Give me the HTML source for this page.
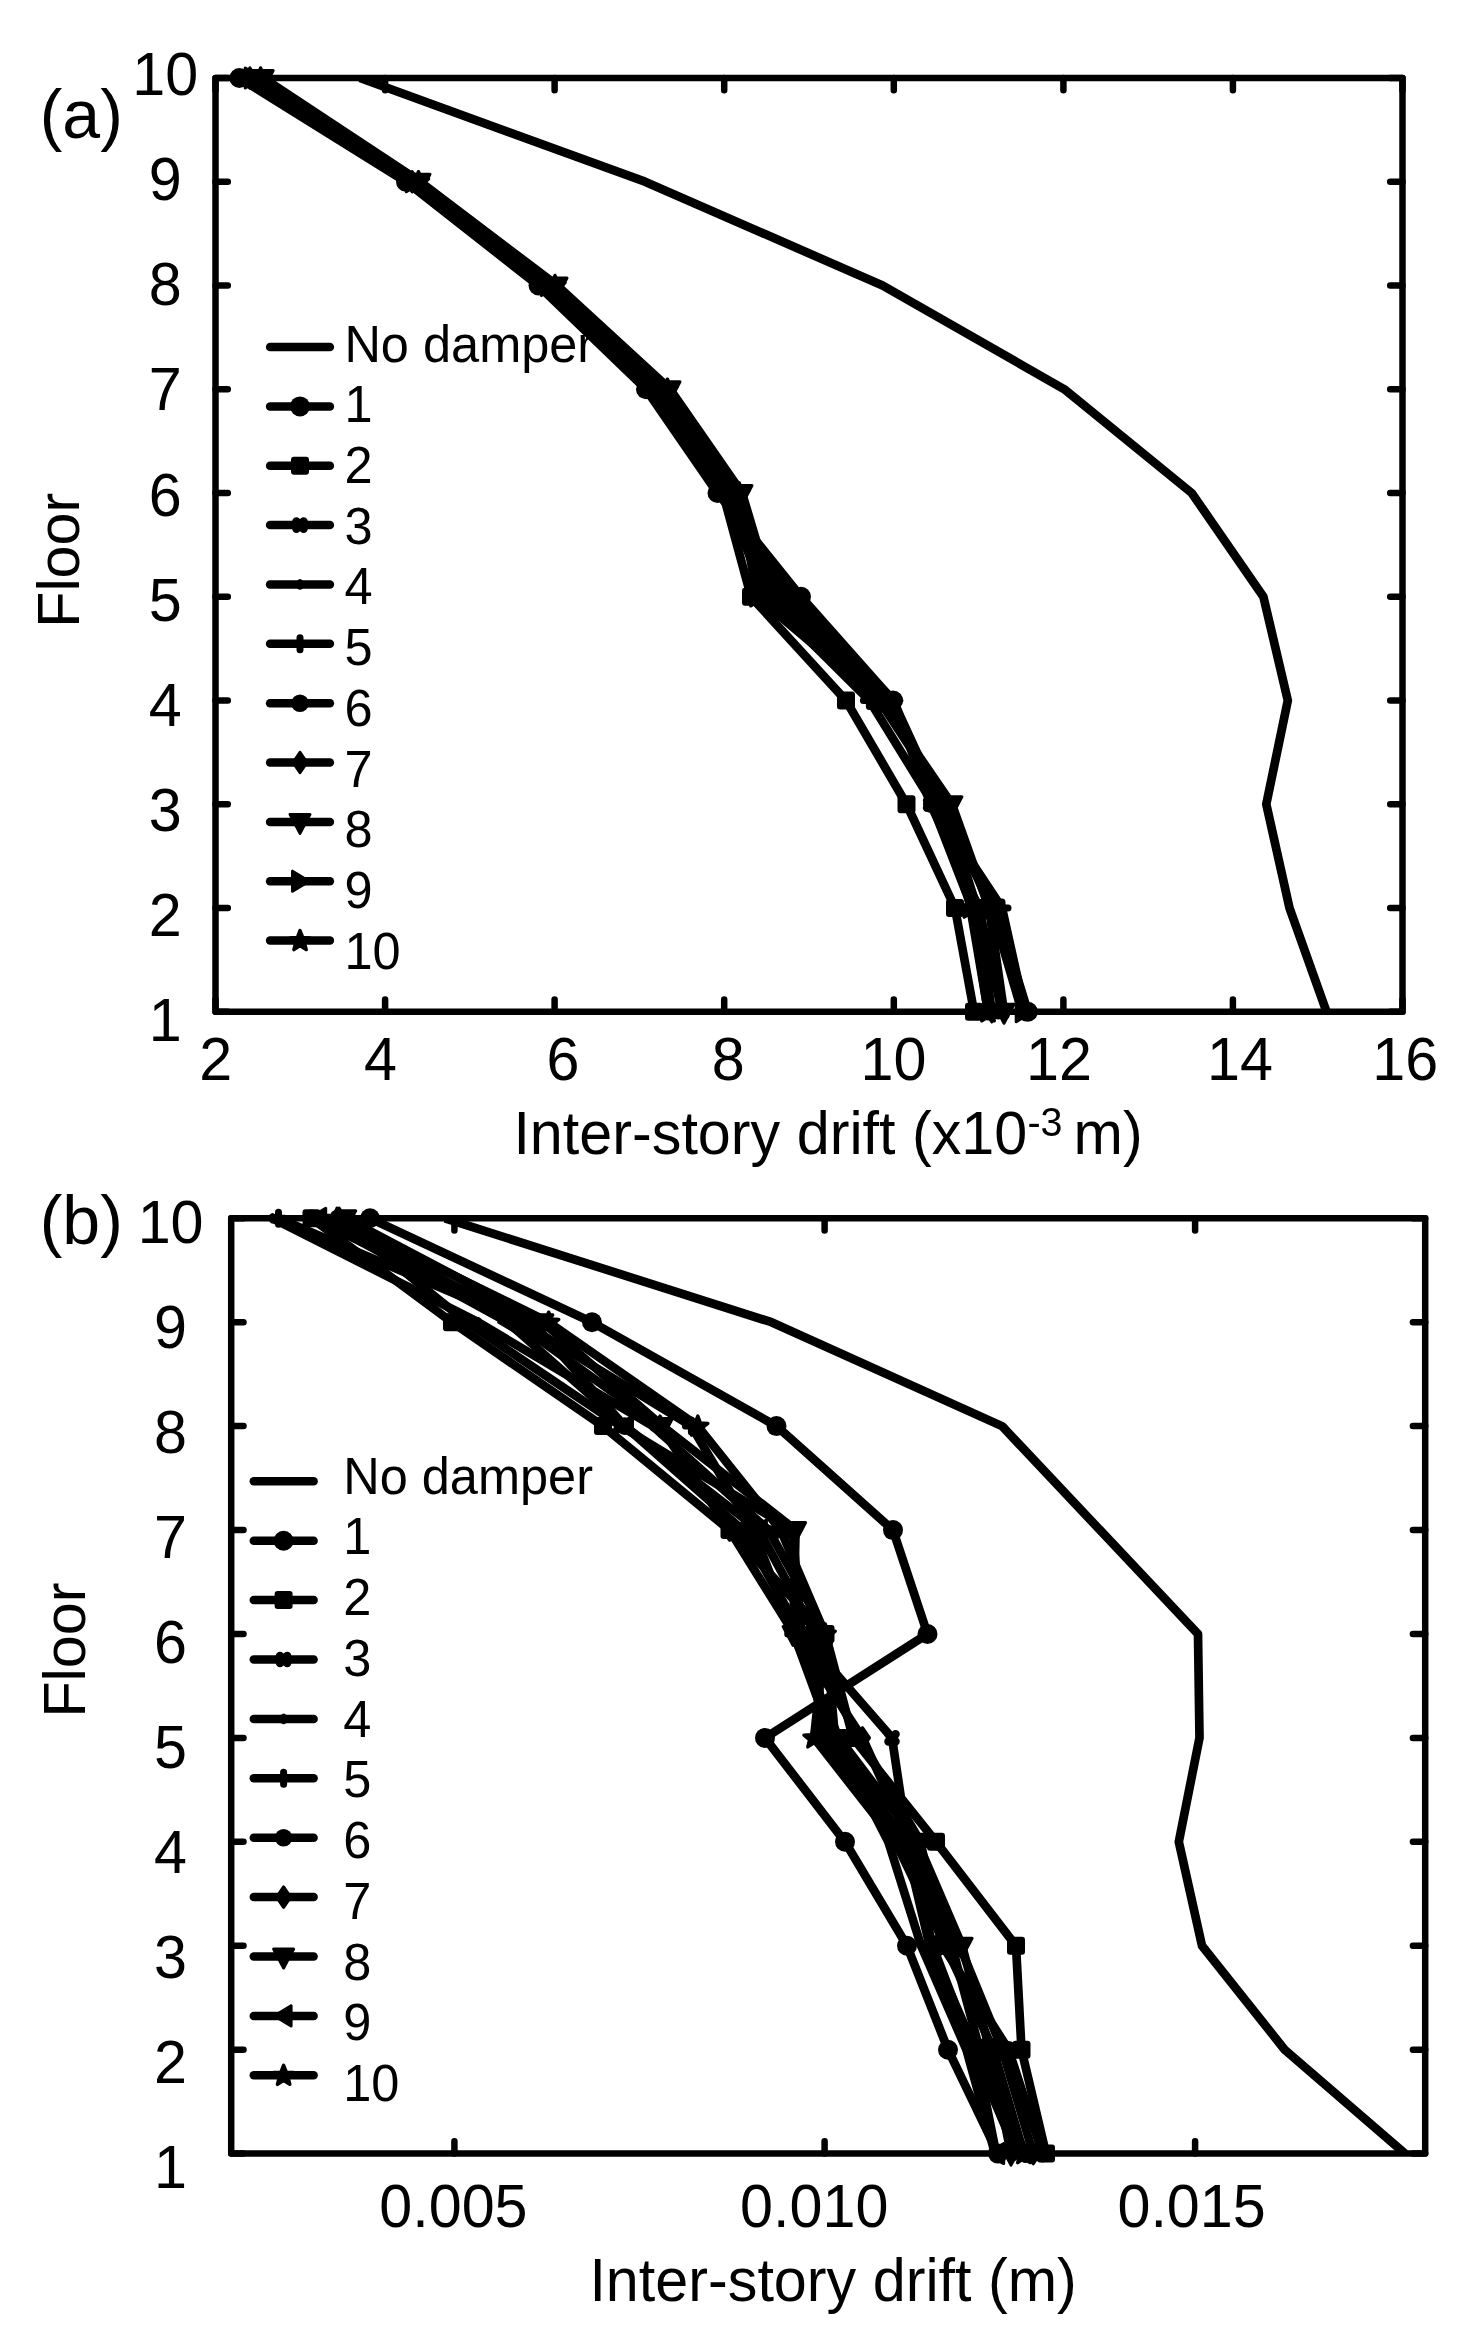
<!DOCTYPE html><html><head><meta charset="utf-8"><style>html,body{margin:0;padding:0;background:#fff;overflow:hidden;}svg{display:block;}text{font-family:"Liberation Sans",sans-serif;fill:#000;}</style></head><body>
<svg width="1464" height="2325" viewBox="0 0 1464 2325">
<rect width="1464" height="2325" fill="#fff"/>
<path d="M215.5,78.0H1402.5V1011.7H215.5Z" fill="none" stroke="#000" stroke-width="6.5" stroke-linejoin="round"/>
<path d="M215.5,1011.7h12.3M1402.5,1011.7h-12.3M215.5,908.0h12.3M1402.5,908.0h-12.3M215.5,804.2h12.3M1402.5,804.2h-12.3M215.5,700.5h12.3M1402.5,700.5h-12.3M215.5,596.7h12.3M1402.5,596.7h-12.3M215.5,493.0h12.3M1402.5,493.0h-12.3M215.5,389.2h12.3M1402.5,389.2h-12.3M215.5,285.5h12.3M1402.5,285.5h-12.3M215.5,181.7h12.3M1402.5,181.7h-12.3M215.5,78.0h12.3M1402.5,78.0h-12.3M215.5,1011.7v-12.3M215.5,78.0v12.3M385.1,1011.7v-12.3M385.1,78.0v12.3M554.6,1011.7v-12.3M554.6,78.0v12.3M724.2,1011.7v-12.3M724.2,78.0v12.3M893.8,1011.7v-12.3M893.8,78.0v12.3M1063.4,1011.7v-12.3M1063.4,78.0v12.3M1232.9,1011.7v-12.3M1232.9,78.0v12.3M1402.5,1011.7v-12.3M1402.5,78.0v12.3" fill="none" stroke="#000" stroke-width="6.5" stroke-linecap="round"/>
<text transform="translate(165.20,1041.01) scale(1,1.0407)" font-size="59.3" text-anchor="middle">1</text>
<text transform="translate(165.20,935.92) scale(1,1.0407)" font-size="59.3" text-anchor="middle">2</text>
<text transform="translate(165.20,830.83) scale(1,1.0407)" font-size="59.3" text-anchor="middle">3</text>
<text transform="translate(165.20,725.74) scale(1,1.0407)" font-size="59.3" text-anchor="middle">4</text>
<text transform="translate(165.20,620.65) scale(1,1.0407)" font-size="59.3" text-anchor="middle">5</text>
<text transform="translate(165.20,515.56) scale(1,1.0407)" font-size="59.3" text-anchor="middle">6</text>
<text transform="translate(165.20,410.47) scale(1,1.0407)" font-size="59.3" text-anchor="middle">7</text>
<text transform="translate(165.20,305.38) scale(1,1.0407)" font-size="59.3" text-anchor="middle">8</text>
<text transform="translate(165.20,200.29) scale(1,1.0407)" font-size="59.3" text-anchor="middle">9</text>
<text transform="translate(165.20,95.20) scale(1,1.0407)" font-size="59.3" text-anchor="middle">10</text>
<text transform="translate(215.65,1079.60) scale(1,1.0407)" font-size="59.3" text-anchor="middle">2</text>
<text transform="translate(380.45,1079.60) scale(1,1.0407)" font-size="59.3" text-anchor="middle">4</text>
<text transform="translate(563.05,1079.60) scale(1,1.0407)" font-size="59.3" text-anchor="middle">6</text>
<text transform="translate(728.20,1079.60) scale(1,1.0407)" font-size="59.3" text-anchor="middle">8</text>
<text transform="translate(893.40,1079.60) scale(1,1.0407)" font-size="59.3" text-anchor="middle">10</text>
<text transform="translate(1059.00,1079.60) scale(1,1.0407)" font-size="59.3" text-anchor="middle">12</text>
<text transform="translate(1240.00,1079.60) scale(1,1.0407)" font-size="59.3" text-anchor="middle">14</text>
<text transform="translate(1405.30,1079.60) scale(1,1.0407)" font-size="59.3" text-anchor="middle">16</text>
<clipPath id="ca"><rect x="215.5" y="78.0" width="1187.0" height="933.7"/></clipPath>
<g clip-path="url(#ca)">
<path d="M360.0,78.0L645.0,181.7L882.6,285.5L1064.2,389.2L1191.7,493.0L1263.4,596.7L1287.8,700.5L1266.3,804.2L1289.5,908.0L1326.5,1011.7" fill="none" stroke="#000" stroke-width="8.7" stroke-linejoin="round" stroke-linecap="butt"/>
<path d="M239.4,78.0L406.0,181.7L538.5,285.5L646.0,389.2L717.5,493.0L801.0,596.7L893.0,700.5L935.6,804.2L996.0,908.0L1027.9,1011.7" fill="none" stroke="#000" stroke-width="8.7" stroke-linejoin="round" stroke-linecap="butt"/>
<path d="M244.6,78.0L409.1,181.7L542.6,285.5L651.3,389.2L722.9,493.0L751.0,596.7L846.0,700.5L906.5,804.2L955.0,908.0L974.0,1011.7" fill="none" stroke="#000" stroke-width="8.7" stroke-linejoin="round" stroke-linecap="butt"/>
<path d="M258.0,78.0L416.9,181.7L552.9,285.5L664.7,389.2L736.6,493.0L778.0,596.7L893.2,700.5L930.6,804.2L979.0,908.0L1001.8,1011.7" fill="none" stroke="#000" stroke-width="8.7" stroke-linejoin="round" stroke-linecap="butt"/>
<path d="M255.3,78.0L415.4,181.7L550.9,285.5L662.1,389.2L733.9,493.0L775.0,596.7L888.9,700.5L942.7,804.2L991.5,908.0L1022.0,1011.7" fill="none" stroke="#000" stroke-width="8.7" stroke-linejoin="round" stroke-linecap="butt"/>
<path d="M247.3,78.0L410.6,181.7L544.6,285.5L653.9,389.2L725.6,493.0L765.0,596.7L869.4,700.5L933.4,804.2L1002.0,908.0L1025.0,1011.7" fill="none" stroke="#000" stroke-width="8.7" stroke-linejoin="round" stroke-linecap="butt"/>
<path d="M242.0,78.0L407.5,181.7L540.5,285.5L648.6,389.2L720.2,493.0L790.0,596.7L894.0,700.5L931.8,804.2L972.0,908.0L987.9,1011.7" fill="none" stroke="#000" stroke-width="8.7" stroke-linejoin="round" stroke-linecap="butt"/>
<path d="M249.9,78.0L412.2,181.7L546.6,285.5L656.6,389.2L728.3,493.0L768.0,596.7L884.0,700.5L944.6,804.2L977.1,908.0L991.8,1011.7" fill="none" stroke="#000" stroke-width="8.7" stroke-linejoin="round" stroke-linecap="butt"/>
<path d="M263.2,78.0L420.0,181.7L557.0,285.5L670.0,389.2L742.0,493.0L773.0,596.7L881.0,700.5L951.9,804.2L989.0,908.0L1004.0,1011.7" fill="none" stroke="#000" stroke-width="8.7" stroke-linejoin="round" stroke-linecap="butt"/>
<path d="M252.7,78.0L413.8,181.7L548.9,285.5L659.4,389.2L731.2,493.0L772.0,596.7L893.0,700.5L940.7,804.2L993.5,908.0L1023.7,1011.7" fill="none" stroke="#000" stroke-width="8.7" stroke-linejoin="round" stroke-linecap="butt"/>
<path d="M260.6,78.0L418.5,181.7L555.0,285.5L667.4,389.2L739.3,493.0L757.0,596.7L879.5,700.5L947.1,804.2L970.4,908.0L988.0,1011.7" fill="none" stroke="#000" stroke-width="8.7" stroke-linejoin="round" stroke-linecap="butt"/>
</g>
<g><circle cx="239.4" cy="78.0" r="10"/><circle cx="406.0" cy="181.7" r="10"/><circle cx="538.5" cy="285.5" r="10"/><circle cx="646.0" cy="389.2" r="10"/><circle cx="717.5" cy="493.0" r="10"/><circle cx="801.0" cy="596.7" r="10"/><circle cx="893.0" cy="700.5" r="10"/><circle cx="935.6" cy="804.2" r="10"/><circle cx="996.0" cy="908.0" r="10"/><circle cx="1027.9" cy="1011.7" r="10"/><rect x="235.6" y="69.0" width="18" height="18" rx="3"/><rect x="400.1" y="172.7" width="18" height="18" rx="3"/><rect x="533.6" y="276.5" width="18" height="18" rx="3"/><rect x="642.3" y="380.2" width="18" height="18" rx="3"/><rect x="713.9" y="484.0" width="18" height="18" rx="3"/><rect x="742.0" y="587.7" width="18" height="18" rx="3"/><rect x="837.0" y="691.5" width="18" height="18" rx="3"/><rect x="897.5" y="795.2" width="18" height="18" rx="3"/><rect x="946.0" y="899.0" width="18" height="18" rx="3"/><rect x="965.0" y="1002.7" width="18" height="18" rx="3"/><path d="M254.4,74.4L261.6,81.6M254.4,81.6L261.6,74.4" fill="none" stroke="#000" stroke-width="8.4" stroke-linecap="round"/><path d="M413.3,178.1L420.5,185.3M413.3,185.3L420.5,178.1" fill="none" stroke="#000" stroke-width="8.4" stroke-linecap="round"/><path d="M549.3,281.9L556.5,289.1M549.3,289.1L556.5,281.9" fill="none" stroke="#000" stroke-width="8.4" stroke-linecap="round"/><path d="M661.1,385.6L668.3,392.8M661.1,392.8L668.3,385.6" fill="none" stroke="#000" stroke-width="8.4" stroke-linecap="round"/><path d="M733.0,489.4L740.2,496.6M733.0,496.6L740.2,489.4" fill="none" stroke="#000" stroke-width="8.4" stroke-linecap="round"/><path d="M774.4,593.1L781.6,600.3M774.4,600.3L781.6,593.1" fill="none" stroke="#000" stroke-width="8.4" stroke-linecap="round"/><path d="M889.6,696.9L896.8,704.1M889.6,704.1L896.8,696.9" fill="none" stroke="#000" stroke-width="8.4" stroke-linecap="round"/><path d="M927.0,800.6L934.2,807.8M927.0,807.8L934.2,800.6" fill="none" stroke="#000" stroke-width="8.4" stroke-linecap="round"/><path d="M975.4,904.4L982.6,911.6M975.4,911.6L982.6,904.4" fill="none" stroke="#000" stroke-width="8.4" stroke-linecap="round"/><path d="M998.2,1008.1L1005.4,1015.3M998.2,1015.3L1005.4,1008.1" fill="none" stroke="#000" stroke-width="8.4" stroke-linecap="round"/><ellipse cx="255.3" cy="78.0" rx="3.8" ry="5.3"/><ellipse cx="415.4" cy="181.7" rx="3.8" ry="5.3"/><ellipse cx="550.9" cy="285.5" rx="3.8" ry="5.3"/><ellipse cx="662.1" cy="389.2" rx="3.8" ry="5.3"/><ellipse cx="733.9" cy="493.0" rx="3.8" ry="5.3"/><ellipse cx="775.0" cy="596.7" rx="3.8" ry="5.3"/><ellipse cx="888.9" cy="700.5" rx="3.8" ry="5.3"/><ellipse cx="942.7" cy="804.2" rx="3.8" ry="5.3"/><ellipse cx="991.5" cy="908.0" rx="3.8" ry="5.3"/><ellipse cx="1022.0" cy="1011.7" rx="3.8" ry="5.3"/><path d="M247.3,72.0V84.0M241.3,78.0H253.3" fill="none" stroke="#000" stroke-width="7" stroke-linecap="round"/><path d="M410.6,175.7V187.7M404.6,181.7H416.6" fill="none" stroke="#000" stroke-width="7" stroke-linecap="round"/><path d="M544.6,279.5V291.5M538.6,285.5H550.6" fill="none" stroke="#000" stroke-width="7" stroke-linecap="round"/><path d="M653.9,383.2V395.2M647.9,389.2H659.9" fill="none" stroke="#000" stroke-width="7" stroke-linecap="round"/><path d="M725.6,487.0V499.0M719.6,493.0H731.6" fill="none" stroke="#000" stroke-width="7" stroke-linecap="round"/><path d="M765.0,590.7V602.7M759.0,596.7H771.0" fill="none" stroke="#000" stroke-width="7" stroke-linecap="round"/><path d="M869.4,694.5V706.5M863.4,700.5H875.4" fill="none" stroke="#000" stroke-width="7" stroke-linecap="round"/><path d="M933.4,798.2V810.2M927.4,804.2H939.4" fill="none" stroke="#000" stroke-width="7" stroke-linecap="round"/><path d="M1002.0,902.0V914.0M996.0,908.0H1008.0" fill="none" stroke="#000" stroke-width="7" stroke-linecap="round"/><path d="M1025.0,1005.7V1017.7M1019.0,1011.7H1031.0" fill="none" stroke="#000" stroke-width="7" stroke-linecap="round"/><circle cx="242.0" cy="78.0" r="8.8"/><circle cx="407.5" cy="181.7" r="8.8"/><circle cx="540.5" cy="285.5" r="8.8"/><circle cx="648.6" cy="389.2" r="8.8"/><circle cx="720.2" cy="493.0" r="8.8"/><circle cx="790.0" cy="596.7" r="8.8"/><circle cx="894.0" cy="700.5" r="8.8"/><circle cx="931.8" cy="804.2" r="8.8"/><circle cx="972.0" cy="908.0" r="8.8"/><circle cx="987.9" cy="1011.7" r="8.8"/><path d="M249.9,67.8L256.9,78.0L249.9,88.2L242.9,78.0Z" stroke="#000" stroke-width="3" stroke-linejoin="round"/><path d="M412.2,171.5L419.2,181.7L412.2,191.9L405.2,181.7Z" stroke="#000" stroke-width="3" stroke-linejoin="round"/><path d="M546.6,275.3L553.6,285.5L546.6,295.7L539.6,285.5Z" stroke="#000" stroke-width="3" stroke-linejoin="round"/><path d="M656.6,379.0L663.6,389.2L656.6,399.4L649.6,389.2Z" stroke="#000" stroke-width="3" stroke-linejoin="round"/><path d="M728.3,482.8L735.3,493.0L728.3,503.2L721.3,493.0Z" stroke="#000" stroke-width="3" stroke-linejoin="round"/><path d="M768.0,586.5L775.0,596.7L768.0,606.9L761.0,596.7Z" stroke="#000" stroke-width="3" stroke-linejoin="round"/><path d="M884.0,690.3L891.0,700.5L884.0,710.7L877.0,700.5Z" stroke="#000" stroke-width="3" stroke-linejoin="round"/><path d="M944.6,794.0L951.6,804.2L944.6,814.4L937.6,804.2Z" stroke="#000" stroke-width="3" stroke-linejoin="round"/><path d="M977.1,897.8L984.1,908.0L977.1,918.2L970.1,908.0Z" stroke="#000" stroke-width="3" stroke-linejoin="round"/><path d="M991.8,1001.5L998.8,1011.7L991.8,1021.9L984.8,1011.7Z" stroke="#000" stroke-width="3" stroke-linejoin="round"/><path d="M253.2,70.5H273.2L263.2,89.5Z" stroke="#000" stroke-width="3" stroke-linejoin="round"/><path d="M410.0,174.2H430.0L420.0,193.2Z" stroke="#000" stroke-width="3" stroke-linejoin="round"/><path d="M547.0,278.0H567.0L557.0,297.0Z" stroke="#000" stroke-width="3" stroke-linejoin="round"/><path d="M660.0,381.7H680.0L670.0,400.7Z" stroke="#000" stroke-width="3" stroke-linejoin="round"/><path d="M732.0,485.5H752.0L742.0,504.5Z" stroke="#000" stroke-width="3" stroke-linejoin="round"/><path d="M763.0,589.2H783.0L773.0,608.2Z" stroke="#000" stroke-width="3" stroke-linejoin="round"/><path d="M871.0,693.0H891.0L881.0,712.0Z" stroke="#000" stroke-width="3" stroke-linejoin="round"/><path d="M941.9,796.7H961.9L951.9,815.7Z" stroke="#000" stroke-width="3" stroke-linejoin="round"/><path d="M979.0,900.5H999.0L989.0,919.5Z" stroke="#000" stroke-width="3" stroke-linejoin="round"/><path d="M994.0,1004.2H1014.0L1004.0,1023.2Z" stroke="#000" stroke-width="3" stroke-linejoin="round"/><path d="M245.2,68.0V88.0L261.7,78.0Z" stroke="#000" stroke-width="3" stroke-linejoin="round"/><path d="M406.3,171.7V191.7L422.8,181.7Z" stroke="#000" stroke-width="3" stroke-linejoin="round"/><path d="M541.4,275.5V295.5L557.9,285.5Z" stroke="#000" stroke-width="3" stroke-linejoin="round"/><path d="M651.9,379.2V399.2L668.4,389.2Z" stroke="#000" stroke-width="3" stroke-linejoin="round"/><path d="M723.7,483.0V503.0L740.2,493.0Z" stroke="#000" stroke-width="3" stroke-linejoin="round"/><path d="M764.5,586.7V606.7L781.0,596.7Z" stroke="#000" stroke-width="3" stroke-linejoin="round"/><path d="M885.5,690.5V710.5L902.0,700.5Z" stroke="#000" stroke-width="3" stroke-linejoin="round"/><path d="M933.2,794.2V814.2L949.7,804.2Z" stroke="#000" stroke-width="3" stroke-linejoin="round"/><path d="M986.0,898.0V918.0L1002.5,908.0Z" stroke="#000" stroke-width="3" stroke-linejoin="round"/><path d="M1016.2,1001.7V1021.7L1032.7,1011.7Z" stroke="#000" stroke-width="3" stroke-linejoin="round"/><path d="M260.6,68.0L263.2,74.9L270.6,75.3L264.9,79.9L266.8,87.0L260.6,83.0L254.4,87.0L256.3,79.9L250.6,75.3L258.0,74.9Z" stroke="#000" stroke-width="3.5" stroke-linejoin="round"/><path d="M418.5,171.7L421.1,178.6L428.5,179.0L422.8,183.6L424.7,190.7L418.5,186.7L412.3,190.7L414.2,183.6L408.5,179.0L415.9,178.6Z" stroke="#000" stroke-width="3.5" stroke-linejoin="round"/><path d="M555.0,275.5L557.6,282.3L565.0,282.7L559.3,287.4L561.2,294.5L555.0,290.5L548.8,294.5L550.7,287.4L545.0,282.7L552.4,282.3Z" stroke="#000" stroke-width="3.5" stroke-linejoin="round"/><path d="M667.4,379.2L670.0,386.1L677.4,386.5L671.7,391.1L673.6,398.2L667.4,394.2L661.2,398.2L663.1,391.1L657.4,386.5L664.8,386.1Z" stroke="#000" stroke-width="3.5" stroke-linejoin="round"/><path d="M739.3,483.0L741.9,489.8L749.3,490.2L743.6,494.9L745.5,502.0L739.3,498.0L733.1,502.0L735.0,494.9L729.3,490.2L736.7,489.8Z" stroke="#000" stroke-width="3.5" stroke-linejoin="round"/><path d="M757.0,586.7L759.6,593.6L767.0,594.0L761.3,598.6L763.2,605.7L757.0,601.7L750.8,605.7L752.7,598.6L747.0,594.0L754.4,593.6Z" stroke="#000" stroke-width="3.5" stroke-linejoin="round"/><path d="M879.5,690.5L882.1,697.3L889.5,697.7L883.8,702.4L885.7,709.5L879.5,705.5L873.3,709.5L875.2,702.4L869.5,697.7L876.9,697.3Z" stroke="#000" stroke-width="3.5" stroke-linejoin="round"/><path d="M947.1,794.2L949.7,801.1L957.1,801.5L951.4,806.1L953.3,813.2L947.1,809.2L940.9,813.2L942.8,806.1L937.1,801.5L944.5,801.1Z" stroke="#000" stroke-width="3.5" stroke-linejoin="round"/><path d="M970.4,898.0L973.0,904.8L980.4,905.2L974.7,909.8L976.6,917.0L970.4,913.0L964.2,917.0L966.1,909.8L960.4,905.2L967.8,904.8Z" stroke="#000" stroke-width="3.5" stroke-linejoin="round"/><path d="M988.0,1001.7L990.6,1008.6L998.0,1009.0L992.3,1013.6L994.2,1020.7L988.0,1016.7L981.8,1020.7L983.7,1013.6L978.0,1009.0L985.4,1008.6Z" stroke="#000" stroke-width="3.5" stroke-linejoin="round"/></g>
<path d="M270.1,347.0L329.9,347.0" fill="none" stroke="#000" stroke-width="8.5" stroke-linejoin="round" stroke-linecap="round"/>
<text transform="translate(344.40,361.70) scale(1,1.02)" font-size="50.5" text-anchor="start">No damper</text>
<path d="M270.1,406.4L329.9,406.4" fill="none" stroke="#000" stroke-width="8.5" stroke-linejoin="round" stroke-linecap="round"/>
<circle cx="300.0" cy="406.4" r="10"/>
<text transform="translate(344.40,422.38) scale(1,1.02)" font-size="50.5" text-anchor="start">1</text>
<path d="M270.1,465.7L329.9,465.7" fill="none" stroke="#000" stroke-width="8.5" stroke-linejoin="round" stroke-linecap="round"/>
<rect x="291.0" y="456.7" width="18" height="18" rx="3"/>
<text transform="translate(344.40,483.07) scale(1,1.02)" font-size="50.5" text-anchor="start">2</text>
<path d="M270.1,525.1L329.9,525.1" fill="none" stroke="#000" stroke-width="8.5" stroke-linejoin="round" stroke-linecap="round"/>
<path d="M296.4,521.5L303.6,528.7M296.4,528.7L303.6,521.5" fill="none" stroke="#000" stroke-width="8.4" stroke-linecap="round"/>
<text transform="translate(344.40,543.75) scale(1,1.02)" font-size="50.5" text-anchor="start">3</text>
<path d="M270.1,584.4L329.9,584.4" fill="none" stroke="#000" stroke-width="8.5" stroke-linejoin="round" stroke-linecap="round"/>
<ellipse cx="300.0" cy="584.4" rx="3.8" ry="5.3"/>
<text transform="translate(344.40,604.44) scale(1,1.02)" font-size="50.5" text-anchor="start">4</text>
<path d="M270.1,643.8L329.9,643.8" fill="none" stroke="#000" stroke-width="8.5" stroke-linejoin="round" stroke-linecap="round"/>
<path d="M300.0,637.8V649.8M294.0,643.8H306.0" fill="none" stroke="#000" stroke-width="7" stroke-linecap="round"/>
<text transform="translate(344.40,665.12) scale(1,1.02)" font-size="50.5" text-anchor="start">5</text>
<path d="M270.1,703.2L329.9,703.2" fill="none" stroke="#000" stroke-width="8.5" stroke-linejoin="round" stroke-linecap="round"/>
<circle cx="300.0" cy="703.2" r="8.8"/>
<text transform="translate(344.40,725.81) scale(1,1.02)" font-size="50.5" text-anchor="start">6</text>
<path d="M270.1,762.5L329.9,762.5" fill="none" stroke="#000" stroke-width="8.5" stroke-linejoin="round" stroke-linecap="round"/>
<path d="M300.0,752.3L307.0,762.5L300.0,772.7L293.0,762.5Z" stroke="#000" stroke-width="3" stroke-linejoin="round"/>
<text transform="translate(344.40,786.50) scale(1,1.02)" font-size="50.5" text-anchor="start">7</text>
<path d="M270.1,821.9L329.9,821.9" fill="none" stroke="#000" stroke-width="8.5" stroke-linejoin="round" stroke-linecap="round"/>
<path d="M290.0,814.4H310.0L300.0,833.4Z" stroke="#000" stroke-width="3" stroke-linejoin="round"/>
<text transform="translate(344.40,847.18) scale(1,1.02)" font-size="50.5" text-anchor="start">8</text>
<path d="M270.1,881.2L329.9,881.2" fill="none" stroke="#000" stroke-width="8.5" stroke-linejoin="round" stroke-linecap="round"/>
<path d="M292.5,871.2V891.2L309.0,881.2Z" stroke="#000" stroke-width="3" stroke-linejoin="round"/>
<text transform="translate(344.40,907.87) scale(1,1.02)" font-size="50.5" text-anchor="start">9</text>
<path d="M270.1,940.6L329.9,940.6" fill="none" stroke="#000" stroke-width="8.5" stroke-linejoin="round" stroke-linecap="round"/>
<path d="M300.0,930.6L302.7,937.5L310.0,937.9L304.3,942.5L306.2,949.6L300.0,945.6L293.9,949.6L295.8,942.5L290.1,937.9L297.4,937.5Z" stroke="#000" stroke-width="3.5" stroke-linejoin="round"/>
<text transform="translate(344.40,968.55) scale(1,1.02)" font-size="50.5" text-anchor="start">10</text>
<path d="M231.2,1218.3H1425.2V2153.6H231.2Z" fill="none" stroke="#000" stroke-width="6.5" stroke-linejoin="round"/>
<path d="M231.2,2153.6h12.3M1425.2,2153.6h-12.3M231.2,2049.7h12.3M1425.2,2049.7h-12.3M231.2,1945.8h12.3M1425.2,1945.8h-12.3M231.2,1841.8h12.3M1425.2,1841.8h-12.3M231.2,1737.9h12.3M1425.2,1737.9h-12.3M231.2,1634.0h12.3M1425.2,1634.0h-12.3M231.2,1530.1h12.3M1425.2,1530.1h-12.3M231.2,1426.1h12.3M1425.2,1426.1h-12.3M231.2,1322.2h12.3M1425.2,1322.2h-12.3M231.2,1218.3h12.3M1425.2,1218.3h-12.3M454.4,2153.6v-12.3M454.4,1218.3v12.3M824.6,2153.6v-12.3M824.6,1218.3v12.3M1195.1,2153.6v-12.3M1195.1,1218.3v12.3" fill="none" stroke="#000" stroke-width="6.5" stroke-linecap="round"/>
<text transform="translate(170.60,2187.86) scale(1,1.0407)" font-size="59.3" text-anchor="middle">1</text>
<text transform="translate(170.60,2082.82) scale(1,1.0407)" font-size="59.3" text-anchor="middle">2</text>
<text transform="translate(170.60,1977.78) scale(1,1.0407)" font-size="59.3" text-anchor="middle">3</text>
<text transform="translate(170.60,1872.74) scale(1,1.0407)" font-size="59.3" text-anchor="middle">4</text>
<text transform="translate(170.60,1767.70) scale(1,1.0407)" font-size="59.3" text-anchor="middle">5</text>
<text transform="translate(170.60,1662.66) scale(1,1.0407)" font-size="59.3" text-anchor="middle">6</text>
<text transform="translate(170.60,1557.62) scale(1,1.0407)" font-size="59.3" text-anchor="middle">7</text>
<text transform="translate(170.60,1452.58) scale(1,1.0407)" font-size="59.3" text-anchor="middle">8</text>
<text transform="translate(170.60,1347.54) scale(1,1.0407)" font-size="59.3" text-anchor="middle">9</text>
<text transform="translate(170.60,1242.50) scale(1,1.0407)" font-size="59.3" text-anchor="middle">10</text>
<text transform="translate(453.40,2226.90) scale(1,1.0407)" font-size="59.3" text-anchor="middle">0.005</text>
<text transform="translate(814.25,2226.90) scale(1,1.0407)" font-size="59.3" text-anchor="middle">0.010</text>
<text transform="translate(1191.60,2226.90) scale(1,1.0407)" font-size="59.3" text-anchor="middle">0.015</text>
<clipPath id="cb"><rect x="231.2" y="1218.3" width="1194.0" height="935.3"/></clipPath>
<g clip-path="url(#cb)">
<path d="M445.0,1218.3L771.5,1322.2L1002.0,1426.1L1100.0,1530.1L1198.0,1634.0L1199.5,1737.9L1178.8,1841.8L1202.0,1945.8L1284.7,2049.7L1405.0,2153.6" fill="none" stroke="#000" stroke-width="8.7" stroke-linejoin="round" stroke-linecap="butt"/>
<path d="M370.0,1218.3L592.0,1322.2L776.5,1426.1L893.0,1530.1L927.5,1634.0L765.0,1737.9L845.0,1841.8L907.0,1945.8L948.0,2049.7L998.0,2153.6" fill="none" stroke="#000" stroke-width="8.7" stroke-linejoin="round" stroke-linecap="butt"/>
<path d="M311.5,1218.3L452.0,1322.2L603.0,1426.1L729.5,1530.1L825.5,1634.0L853.0,1737.9L936.0,1841.8L1016.0,1945.8L1021.5,2049.7L1046.0,2153.6" fill="none" stroke="#000" stroke-width="8.7" stroke-linejoin="round" stroke-linecap="butt"/>
<path d="M338.5,1218.3L466.5,1322.2L620.8,1426.1L792.7,1530.1L801.5,1634.0L892.0,1737.9L907.5,1841.8L932.7,1945.8L972.4,2049.7L1016.8,2153.6" fill="none" stroke="#000" stroke-width="8.7" stroke-linejoin="round" stroke-linecap="butt"/>
<path d="M272.5,1218.3L478.2,1322.2L652.7,1426.1L768.6,1530.1L826.0,1634.0L835.0,1737.9L888.3,1841.8L921.1,1945.8L966.4,2049.7L995.0,2153.6" fill="none" stroke="#000" stroke-width="8.7" stroke-linejoin="round" stroke-linecap="butt"/>
<path d="M278.5,1218.3L521.4,1322.2L691.4,1426.1L753.0,1530.1L793.7,1634.0L832.0,1737.9L905.8,1841.8L951.9,1945.8L979.7,2049.7L1025.2,2153.6" fill="none" stroke="#000" stroke-width="8.7" stroke-linejoin="round" stroke-linecap="butt"/>
<path d="M311.4,1218.3L532.4,1322.2L624.7,1426.1L742.7,1530.1L801.2,1634.0L859.5,1737.9L920.5,1841.8L942.6,1945.8L1008.6,2049.7L1042.6,2153.6" fill="none" stroke="#000" stroke-width="8.7" stroke-linejoin="round" stroke-linecap="butt"/>
<path d="M339.1,1218.3L515.3,1322.2L660.0,1426.1L729.6,1530.1L794.2,1634.0L862.5,1737.9L909.6,1841.8L959.8,1945.8L1002.3,2049.7L1033.2,2153.6" fill="none" stroke="#000" stroke-width="8.7" stroke-linejoin="round" stroke-linecap="butt"/>
<path d="M345.7,1218.3L542.9,1322.2L662.4,1426.1L795.6,1530.1L793.1,1634.0L839.0,1737.9L917.4,1841.8L962.1,1945.8L989.7,2049.7L1011.0,2153.6" fill="none" stroke="#000" stroke-width="8.7" stroke-linejoin="round" stroke-linecap="butt"/>
<path d="M318.2,1218.3L507.7,1322.2L625.0,1426.1L758.9,1530.1L815.1,1634.0L823.0,1737.9L905.1,1841.8L929.6,1945.8L975.4,2049.7L996.2,2153.6" fill="none" stroke="#000" stroke-width="8.7" stroke-linejoin="round" stroke-linecap="butt"/>
<path d="M337.1,1218.3L548.7,1322.2L697.8,1426.1L780.7,1530.1L825.2,1634.0L814.0,1737.9L895.4,1841.8L945.5,1945.8L993.3,2049.7L1023.9,2153.6" fill="none" stroke="#000" stroke-width="8.7" stroke-linejoin="round" stroke-linecap="butt"/>
</g>
<g><circle cx="370.0" cy="1218.3" r="10"/><circle cx="592.0" cy="1322.2" r="10"/><circle cx="776.5" cy="1426.1" r="10"/><circle cx="893.0" cy="1530.1" r="10"/><circle cx="927.5" cy="1634.0" r="10"/><circle cx="765.0" cy="1737.9" r="10"/><circle cx="845.0" cy="1841.8" r="10"/><circle cx="907.0" cy="1945.8" r="10"/><circle cx="948.0" cy="2049.7" r="10"/><circle cx="998.0" cy="2153.6" r="10"/><rect x="302.5" y="1209.3" width="18" height="18" rx="3"/><rect x="443.0" y="1313.2" width="18" height="18" rx="3"/><rect x="594.0" y="1417.1" width="18" height="18" rx="3"/><rect x="720.5" y="1521.1" width="18" height="18" rx="3"/><rect x="816.5" y="1625.0" width="18" height="18" rx="3"/><rect x="844.0" y="1728.9" width="18" height="18" rx="3"/><rect x="927.0" y="1832.8" width="18" height="18" rx="3"/><rect x="1007.0" y="1936.8" width="18" height="18" rx="3"/><rect x="1012.5" y="2040.7" width="18" height="18" rx="3"/><rect x="1037.0" y="2144.6" width="18" height="18" rx="3"/><path d="M334.9,1214.7L342.1,1221.9M334.9,1221.9L342.1,1214.7" fill="none" stroke="#000" stroke-width="8.4" stroke-linecap="round"/><path d="M462.9,1318.6L470.1,1325.8M462.9,1325.8L470.1,1318.6" fill="none" stroke="#000" stroke-width="8.4" stroke-linecap="round"/><path d="M617.2,1422.5L624.4,1429.7M617.2,1429.7L624.4,1422.5" fill="none" stroke="#000" stroke-width="8.4" stroke-linecap="round"/><path d="M789.1,1526.5L796.3,1533.7M789.1,1533.7L796.3,1526.5" fill="none" stroke="#000" stroke-width="8.4" stroke-linecap="round"/><path d="M797.9,1630.4L805.1,1637.6M797.9,1637.6L805.1,1630.4" fill="none" stroke="#000" stroke-width="8.4" stroke-linecap="round"/><path d="M888.4,1734.3L895.6,1741.5M888.4,1741.5L895.6,1734.3" fill="none" stroke="#000" stroke-width="8.4" stroke-linecap="round"/><path d="M903.9,1838.2L911.1,1845.4M903.9,1845.4L911.1,1838.2" fill="none" stroke="#000" stroke-width="8.4" stroke-linecap="round"/><path d="M929.1,1942.2L936.3,1949.4M929.1,1949.4L936.3,1942.2" fill="none" stroke="#000" stroke-width="8.4" stroke-linecap="round"/><path d="M968.8,2046.1L976.0,2053.3M968.8,2053.3L976.0,2046.1" fill="none" stroke="#000" stroke-width="8.4" stroke-linecap="round"/><path d="M1013.2,2150.0L1020.4,2157.2M1013.2,2157.2L1020.4,2150.0" fill="none" stroke="#000" stroke-width="8.4" stroke-linecap="round"/><ellipse cx="272.5" cy="1218.3" rx="3.8" ry="5.3"/><ellipse cx="478.2" cy="1322.2" rx="3.8" ry="5.3"/><ellipse cx="652.7" cy="1426.1" rx="3.8" ry="5.3"/><ellipse cx="768.6" cy="1530.1" rx="3.8" ry="5.3"/><ellipse cx="826.0" cy="1634.0" rx="3.8" ry="5.3"/><ellipse cx="835.0" cy="1737.9" rx="3.8" ry="5.3"/><ellipse cx="888.3" cy="1841.8" rx="3.8" ry="5.3"/><ellipse cx="921.1" cy="1945.8" rx="3.8" ry="5.3"/><ellipse cx="966.4" cy="2049.7" rx="3.8" ry="5.3"/><ellipse cx="995.0" cy="2153.6" rx="3.8" ry="5.3"/><path d="M278.5,1212.3V1224.3M272.5,1218.3H284.5" fill="none" stroke="#000" stroke-width="7" stroke-linecap="round"/><path d="M521.4,1316.2V1328.2M515.4,1322.2H527.4" fill="none" stroke="#000" stroke-width="7" stroke-linecap="round"/><path d="M691.4,1420.1V1432.1M685.4,1426.1H697.4" fill="none" stroke="#000" stroke-width="7" stroke-linecap="round"/><path d="M753.0,1524.1V1536.1M747.0,1530.1H759.0" fill="none" stroke="#000" stroke-width="7" stroke-linecap="round"/><path d="M793.7,1628.0V1640.0M787.7,1634.0H799.7" fill="none" stroke="#000" stroke-width="7" stroke-linecap="round"/><path d="M832.0,1731.9V1743.9M826.0,1737.9H838.0" fill="none" stroke="#000" stroke-width="7" stroke-linecap="round"/><path d="M905.8,1835.8V1847.8M899.8,1841.8H911.8" fill="none" stroke="#000" stroke-width="7" stroke-linecap="round"/><path d="M951.9,1939.8V1951.8M945.9,1945.8H957.9" fill="none" stroke="#000" stroke-width="7" stroke-linecap="round"/><path d="M979.7,2043.7V2055.7M973.7,2049.7H985.7" fill="none" stroke="#000" stroke-width="7" stroke-linecap="round"/><path d="M1025.2,2147.6V2159.6M1019.2,2153.6H1031.2" fill="none" stroke="#000" stroke-width="7" stroke-linecap="round"/><circle cx="311.4" cy="1218.3" r="8.8"/><circle cx="532.4" cy="1322.2" r="8.8"/><circle cx="624.7" cy="1426.1" r="8.8"/><circle cx="742.7" cy="1530.1" r="8.8"/><circle cx="801.2" cy="1634.0" r="8.8"/><circle cx="859.5" cy="1737.9" r="8.8"/><circle cx="920.5" cy="1841.8" r="8.8"/><circle cx="942.6" cy="1945.8" r="8.8"/><circle cx="1008.6" cy="2049.7" r="8.8"/><circle cx="1042.6" cy="2153.6" r="8.8"/><path d="M339.1,1208.1L346.1,1218.3L339.1,1228.5L332.1,1218.3Z" stroke="#000" stroke-width="3" stroke-linejoin="round"/><path d="M515.3,1312.0L522.3,1322.2L515.3,1332.4L508.3,1322.2Z" stroke="#000" stroke-width="3" stroke-linejoin="round"/><path d="M660.0,1415.9L667.0,1426.1L660.0,1436.3L653.0,1426.1Z" stroke="#000" stroke-width="3" stroke-linejoin="round"/><path d="M729.6,1519.9L736.6,1530.1L729.6,1540.3L722.6,1530.1Z" stroke="#000" stroke-width="3" stroke-linejoin="round"/><path d="M794.2,1623.8L801.2,1634.0L794.2,1644.2L787.2,1634.0Z" stroke="#000" stroke-width="3" stroke-linejoin="round"/><path d="M862.5,1727.7L869.5,1737.9L862.5,1748.1L855.5,1737.9Z" stroke="#000" stroke-width="3" stroke-linejoin="round"/><path d="M909.6,1831.6L916.6,1841.8L909.6,1852.0L902.6,1841.8Z" stroke="#000" stroke-width="3" stroke-linejoin="round"/><path d="M959.8,1935.6L966.8,1945.8L959.8,1956.0L952.8,1945.8Z" stroke="#000" stroke-width="3" stroke-linejoin="round"/><path d="M1002.3,2039.5L1009.3,2049.7L1002.3,2059.9L995.3,2049.7Z" stroke="#000" stroke-width="3" stroke-linejoin="round"/><path d="M1033.2,2143.4L1040.2,2153.6L1033.2,2163.8L1026.2,2153.6Z" stroke="#000" stroke-width="3" stroke-linejoin="round"/><path d="M335.7,1210.8H355.7L345.7,1229.8Z" stroke="#000" stroke-width="3" stroke-linejoin="round"/><path d="M532.9,1314.7H552.9L542.9,1333.7Z" stroke="#000" stroke-width="3" stroke-linejoin="round"/><path d="M652.4,1418.6H672.4L662.4,1437.6Z" stroke="#000" stroke-width="3" stroke-linejoin="round"/><path d="M785.6,1522.6H805.6L795.6,1541.6Z" stroke="#000" stroke-width="3" stroke-linejoin="round"/><path d="M783.1,1626.5H803.1L793.1,1645.5Z" stroke="#000" stroke-width="3" stroke-linejoin="round"/><path d="M829.0,1730.4H849.0L839.0,1749.4Z" stroke="#000" stroke-width="3" stroke-linejoin="round"/><path d="M907.4,1834.3H927.4L917.4,1853.3Z" stroke="#000" stroke-width="3" stroke-linejoin="round"/><path d="M952.1,1938.3H972.1L962.1,1957.3Z" stroke="#000" stroke-width="3" stroke-linejoin="round"/><path d="M979.7,2042.2H999.7L989.7,2061.2Z" stroke="#000" stroke-width="3" stroke-linejoin="round"/><path d="M1001.0,2146.1H1021.0L1011.0,2165.1Z" stroke="#000" stroke-width="3" stroke-linejoin="round"/><path d="M325.7,1208.3V1228.3L309.2,1218.3Z" stroke="#000" stroke-width="3" stroke-linejoin="round"/><path d="M515.2,1312.2V1332.2L498.7,1322.2Z" stroke="#000" stroke-width="3" stroke-linejoin="round"/><path d="M632.5,1416.1V1436.1L616.0,1426.1Z" stroke="#000" stroke-width="3" stroke-linejoin="round"/><path d="M766.4,1520.1V1540.1L749.9,1530.1Z" stroke="#000" stroke-width="3" stroke-linejoin="round"/><path d="M822.6,1624.0V1644.0L806.1,1634.0Z" stroke="#000" stroke-width="3" stroke-linejoin="round"/><path d="M830.5,1727.9V1747.9L814.0,1737.9Z" stroke="#000" stroke-width="3" stroke-linejoin="round"/><path d="M912.6,1831.8V1851.8L896.1,1841.8Z" stroke="#000" stroke-width="3" stroke-linejoin="round"/><path d="M937.1,1935.8V1955.8L920.6,1945.8Z" stroke="#000" stroke-width="3" stroke-linejoin="round"/><path d="M982.9,2039.7V2059.7L966.4,2049.7Z" stroke="#000" stroke-width="3" stroke-linejoin="round"/><path d="M1003.7,2143.6V2163.6L987.2,2153.6Z" stroke="#000" stroke-width="3" stroke-linejoin="round"/><path d="M337.1,1208.3L339.7,1215.2L347.1,1215.6L341.4,1220.2L343.3,1227.3L337.1,1223.3L330.9,1227.3L332.8,1220.2L327.1,1215.6L334.5,1215.2Z" stroke="#000" stroke-width="3.5" stroke-linejoin="round"/><path d="M548.7,1312.2L551.3,1319.1L558.7,1319.5L553.0,1324.1L554.9,1331.2L548.7,1327.2L542.5,1331.2L544.4,1324.1L538.7,1319.5L546.1,1319.1Z" stroke="#000" stroke-width="3.5" stroke-linejoin="round"/><path d="M697.8,1416.1L700.4,1423.0L707.8,1423.4L702.1,1428.0L704.0,1435.1L697.8,1431.1L691.6,1435.1L693.5,1428.0L687.8,1423.4L695.2,1423.0Z" stroke="#000" stroke-width="3.5" stroke-linejoin="round"/><path d="M780.7,1520.1L783.3,1526.9L790.7,1527.3L785.0,1532.0L786.9,1539.1L780.7,1535.1L774.5,1539.1L776.4,1532.0L770.7,1527.3L778.1,1526.9Z" stroke="#000" stroke-width="3.5" stroke-linejoin="round"/><path d="M825.2,1624.0L827.8,1630.8L835.2,1631.2L829.5,1635.9L831.4,1643.0L825.2,1639.0L819.0,1643.0L820.9,1635.9L815.2,1631.2L822.6,1630.8Z" stroke="#000" stroke-width="3.5" stroke-linejoin="round"/><path d="M814.0,1727.9L816.6,1734.8L824.0,1735.2L818.3,1739.8L820.2,1746.9L814.0,1742.9L807.8,1746.9L809.7,1739.8L804.0,1735.2L811.4,1734.8Z" stroke="#000" stroke-width="3.5" stroke-linejoin="round"/><path d="M895.4,1831.8L898.0,1838.7L905.4,1839.1L899.7,1843.7L901.6,1850.8L895.4,1846.8L889.2,1850.8L891.1,1843.7L885.4,1839.1L892.8,1838.7Z" stroke="#000" stroke-width="3.5" stroke-linejoin="round"/><path d="M945.5,1935.8L948.1,1942.6L955.5,1943.0L949.8,1947.6L951.7,1954.8L945.5,1950.8L939.3,1954.8L941.2,1947.6L935.5,1943.0L942.9,1942.6Z" stroke="#000" stroke-width="3.5" stroke-linejoin="round"/><path d="M993.3,2039.7L995.9,2046.5L1003.3,2046.9L997.6,2051.6L999.5,2058.7L993.3,2054.7L987.1,2058.7L989.0,2051.6L983.3,2046.9L990.7,2046.5Z" stroke="#000" stroke-width="3.5" stroke-linejoin="round"/><path d="M1023.9,2143.6L1026.5,2150.5L1033.9,2150.9L1028.2,2155.5L1030.1,2162.6L1023.9,2158.6L1017.7,2162.6L1019.6,2155.5L1013.9,2150.9L1021.3,2150.5Z" stroke="#000" stroke-width="3.5" stroke-linejoin="round"/></g>
<path d="M253.8,1481.3L313.6,1481.3" fill="none" stroke="#000" stroke-width="8.5" stroke-linejoin="round" stroke-linecap="round"/>
<text transform="translate(343.20,1493.50) scale(1,1.02)" font-size="50.5" text-anchor="start">No damper</text>
<path d="M253.8,1540.7L313.6,1540.7" fill="none" stroke="#000" stroke-width="8.5" stroke-linejoin="round" stroke-linecap="round"/>
<circle cx="283.6" cy="1540.7" r="10"/>
<text transform="translate(343.20,1554.25) scale(1,1.02)" font-size="50.5" text-anchor="start">1</text>
<path d="M253.8,1600.1L313.6,1600.1" fill="none" stroke="#000" stroke-width="8.5" stroke-linejoin="round" stroke-linecap="round"/>
<rect x="274.6" y="1591.1" width="18" height="18" rx="3"/>
<text transform="translate(343.20,1615.00) scale(1,1.02)" font-size="50.5" text-anchor="start">2</text>
<path d="M253.8,1659.5L313.6,1659.5" fill="none" stroke="#000" stroke-width="8.5" stroke-linejoin="round" stroke-linecap="round"/>
<path d="M280.0,1655.9L287.2,1663.1M280.0,1663.1L287.2,1655.9" fill="none" stroke="#000" stroke-width="8.4" stroke-linecap="round"/>
<text transform="translate(343.20,1675.75) scale(1,1.02)" font-size="50.5" text-anchor="start">3</text>
<path d="M253.8,1718.9L313.6,1718.9" fill="none" stroke="#000" stroke-width="8.5" stroke-linejoin="round" stroke-linecap="round"/>
<ellipse cx="283.6" cy="1718.9" rx="3.8" ry="5.3"/>
<text transform="translate(343.20,1736.50) scale(1,1.02)" font-size="50.5" text-anchor="start">4</text>
<path d="M253.8,1778.3L313.6,1778.3" fill="none" stroke="#000" stroke-width="8.5" stroke-linejoin="round" stroke-linecap="round"/>
<path d="M283.6,1772.3V1784.3M277.6,1778.3H289.6" fill="none" stroke="#000" stroke-width="7" stroke-linecap="round"/>
<text transform="translate(343.20,1797.25) scale(1,1.02)" font-size="50.5" text-anchor="start">5</text>
<path d="M253.8,1837.7L313.6,1837.7" fill="none" stroke="#000" stroke-width="8.5" stroke-linejoin="round" stroke-linecap="round"/>
<circle cx="283.6" cy="1837.7" r="8.8"/>
<text transform="translate(343.20,1858.00) scale(1,1.02)" font-size="50.5" text-anchor="start">6</text>
<path d="M253.8,1897.1L313.6,1897.1" fill="none" stroke="#000" stroke-width="8.5" stroke-linejoin="round" stroke-linecap="round"/>
<path d="M283.6,1886.9L290.6,1897.1L283.6,1907.3L276.6,1897.1Z" stroke="#000" stroke-width="3" stroke-linejoin="round"/>
<text transform="translate(343.20,1918.75) scale(1,1.02)" font-size="50.5" text-anchor="start">7</text>
<path d="M253.8,1956.5L313.6,1956.5" fill="none" stroke="#000" stroke-width="8.5" stroke-linejoin="round" stroke-linecap="round"/>
<path d="M273.6,1949.0H293.6L283.6,1968.0Z" stroke="#000" stroke-width="3" stroke-linejoin="round"/>
<text transform="translate(343.20,1979.50) scale(1,1.02)" font-size="50.5" text-anchor="start">8</text>
<path d="M253.8,2015.9L313.6,2015.9" fill="none" stroke="#000" stroke-width="8.5" stroke-linejoin="round" stroke-linecap="round"/>
<path d="M291.1,2005.9V2025.9L274.6,2015.9Z" stroke="#000" stroke-width="3" stroke-linejoin="round"/>
<text transform="translate(343.20,2040.25) scale(1,1.02)" font-size="50.5" text-anchor="start">9</text>
<path d="M253.8,2075.3L313.6,2075.3" fill="none" stroke="#000" stroke-width="8.5" stroke-linejoin="round" stroke-linecap="round"/>
<path d="M283.6,2065.3L286.3,2072.2L293.6,2072.6L287.9,2077.2L289.8,2084.3L283.6,2080.3L277.5,2084.3L279.4,2077.2L273.7,2072.6L281.0,2072.2Z" stroke="#000" stroke-width="3.5" stroke-linejoin="round"/>
<text transform="translate(343.20,2101.00) scale(1,1.02)" font-size="50.5" text-anchor="start">10</text>
<text transform="translate(39.70,138.10) scale(1,1.0)" font-size="68" text-anchor="start">(a)</text>
<text transform="translate(39.70,1244.40) scale(1,1.0)" font-size="68" text-anchor="start">(b)</text>
<text transform="translate(78.80,627.80) rotate(-90) scale(1,1.0)" font-size="59.3" text-anchor="start">Floor</text>
<text transform="translate(85.00,1717.60) rotate(-90) scale(1,1.0)" font-size="59.3" text-anchor="start">Floor</text>
<text transform="translate(513.40,1154.10) scale(1,1.0407)" font-size="59.3" text-anchor="start">Inter-story drift (x10</text>
<text style="filter:grayscale(1)" transform="translate(1027.47,1135.80) scale(0.6661,0.6932)" font-size="59.3">-3</text>
<text transform="translate(1073.56,1154.10) scale(1,1.0407)" font-size="59.3" text-anchor="start">m)</text>
<text transform="translate(589.40,2301.10) scale(1,1.0407)" font-size="59.3" text-anchor="start">Inter-story drift (m)</text>
</svg></body></html>
